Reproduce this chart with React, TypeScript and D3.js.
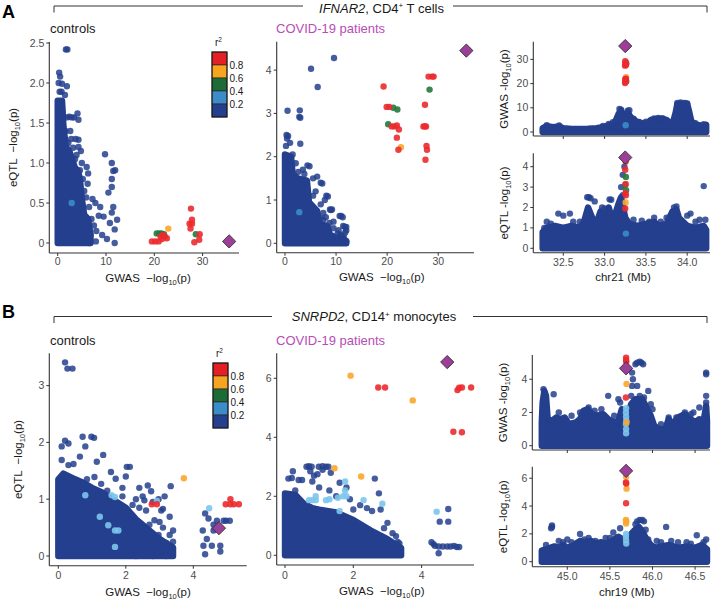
import React from "react";
import * as d3 from "d3";

type Pt = [number, number];
type CPt = [number, number, number];

const FONT = "'Liberation Sans', Arial, Helvetica, sans-serif";
const BLUE = "#243F8D";
const LEGEND_COLORS = ["#E41F26", "#F7A520", "#1D6B37", "#3B8CC8", "#243F8E"];
const LEGEND_LABELS = ["0.8", "0.6", "0.4", "0.2"];
// point classes: 0 red, 1 orange, 2 green, 3 light blue, 5 medium blue
const POINT_COLORS: Record<number, string> = { 0: "#EC2A2D", 1: "#F9A62A", 2: "#237A3D", 3: "#7CC5EC", 5: "#3B8CC8" };
const LEAD_COLOR = "#9B3F98";

// ---------- Panel A : IFNAR2, CD4+ T cells ----------
const A_CTRL_ENV: Pt[] = [[0,1.78],[0.9,1.78],[1.2,1.45],[1.7,1.2],[2.4,1.15],[3.0,1.05],[3.5,0.95],[4.2,0.9],[4.6,0.8],[5.0,0.55],[5.5,0.35],[6.3,0.3],[6.8,0.1]];
const A_CTRL_BLUE: Pt[] = [[1.7,2.42],[2.0,2.42],[0.3,2.13],[0.5,2.08],[0.2,2.0],[0.9,1.99],[1.9,1.96],[0.4,1.89],[0.8,1.89],[1.5,1.85],[0.6,1.75],[0.9,1.65],[1.9,1.57],[2.4,1.58],[2.9,1.57],[3.4,1.57],[4.3,1.54],[4.1,1.62],[4.3,1.29],[4.3,1.2],[3.2,1.19],[3.6,1.05],[2.8,1.3],[2.2,1.25],[1.6,1.4],[6.0,0.95],[6.3,0.87],[4.6,0.91],[5.2,0.8],[9.8,1.11],[11.2,1.0],[11.5,0.9],[11.9,0.91],[11.2,0.8],[10.5,0.63],[11.2,0.7],[11.5,0.45],[11.2,0.38],[11.8,0.17],[11.8,0.0],[8.8,0.45],[9.5,0.33],[7.8,0.5],[7.2,0.55],[8.5,0.34],[9.2,0.1],[6.8,0.1],[7.5,0.22],[5.9,0.57],[6.2,0.74],[5.0,1.0],[3.9,1.1],[5.5,0.65],[6.5,0.45],[7.0,0.3],[8.0,0.15],[10.2,0.05],[10.8,0.25],[12.3,0.29],[6.5,0.0],[7.9,0.02],[5.6,0.2],[2.6,1.4],[3.7,1.3],[4.8,1.15]];
const A_CTRL_COL: CPt[] = [[2.9,0.5,5],[19.5,0.02,0],[20.2,0.02,0],[20.9,0.02,0],[21.3,0.08,0],[21.8,0.1,0],[22.2,0.08,0],[22.6,0.06,0],[21.6,0.05,0],[20.5,0.12,2],[21.0,0.12,2],[21.5,0.12,2],[22.0,0.11,2],[22.9,0.18,1],[27.6,0.43,0],[27.8,0.29,0],[27.3,0.24,0],[27.8,0.24,0],[27.5,0.18,0],[29.4,0.11,0],[29.3,0.04,0],[28.3,0.01,0],[28.6,0.11,2]];
const A_CTRL_LEAD: Pt = [35.5, 0.02];

const A_COV_ENV: Pt[] = [[0,2.05],[1.2,2.0],[1.5,1.6],[2.5,1.5],[4.3,1.45],[4.7,0.95],[6.3,0.75],[6.7,0.45],[8.3,0.4],[8.8,0.2],[10,0.12],[11.5,0.1],[12,0.05]];
const A_COV_BLUE: Pt[] = [[9.6,4.28],[5.1,4.03],[6.4,3.61],[0.5,3.06],[2.9,3.07],[2.8,2.92],[3.0,2.9],[3.0,2.3],[0.3,2.5],[0.6,2.48],[0.4,2.42],[1.0,2.32],[4.4,1.8],[4.8,1.78],[6.3,1.54],[7.0,1.4],[7.3,1.38],[8.1,1.1],[8.4,1.08],[9.0,0.77],[9.2,0.78],[8.8,0.78],[10.7,0.63],[11.0,0.63],[11.3,0.6],[11.4,0.4],[11.7,0.38],[11.8,0.25],[9.9,0.07],[11.2,0.05],[10.3,0.23],[8.7,0.47],[6.6,0.08],[7.5,0.55],[6.9,0.58],[10.8,0.18],[12.0,0.38],[2.1,1.85],[1.5,2.05],[0.2,2.25],[3.5,1.7],[5.5,1.5],[7.8,1.0],[9.5,0.5],[11.5,0.15],[5.5,1.1],[6.0,1.2],[7.0,0.9],[7.5,0.7],[8.0,0.6],[9.5,0.35],[10.5,0.3],[11.0,0.2],[12.0,0.3],[12.0,0.05],[3.8,1.6],[2.6,1.65]];
const A_COV_COL: CPt[] = [[2.8,0.72,5],[19.3,3.62,0],[19.9,3.15,0],[20.4,3.15,0],[20.9,2.7,0],[21.4,2.7,0],[21.9,2.72,0],[22.3,2.63,0],[21.9,2.44,0],[22.2,2.16,0],[28.1,3.85,0],[28.8,3.85,0],[29.1,3.85,0],[27.4,3.2,0],[27.1,2.7,0],[27.4,2.7,0],[27.6,2.7,0],[27.7,2.25,0],[27.8,2.16,0],[27.5,1.93,0],[21.2,3.13,2],[22.0,3.09,2],[20.2,2.75,2],[28.3,3.55,2],[22.7,2.22,1]];
const A_COV_LEAD: Pt = [35.5, 4.45];

const A_LOC_GWAS_ENV: Pt[] = [[32.25,1.6],[32.3,2.4],[32.38,2.0],[32.45,2.3],[32.5,1.6],[32.6,1.3],[32.7,1.3],[32.8,1.4],[32.9,1.6],[32.98,2.0],[33.05,2.8],[33.12,3.5],[33.17,7.5],[33.2,8.8],[33.24,6],[33.28,8.0],[33.32,6],[33.38,4.5],[33.45,3.5],[33.52,3.8],[33.56,5.0],[33.65,5.5],[33.72,5.3],[33.78,4.2],[33.82,3.0],[33.86,8],[33.88,11.5],[33.95,11.8],[34.0,11.6],[34.02,9],[34.05,4.5],[34.1,3],[34.18,2.6],[34.23,3.0]];
const A_LOC_GWAS_BLUE: Pt[] = [[33.18,9.5],[33.2,9.2],[33.28,8.8],[33.3,9.0],[33.88,12],[33.92,12.2],[33.97,12],[34.0,11.8],[33.65,5.8],[33.6,5.6],[33.7,5.7],[33.15,4.5],[34.03,6],[32.3,2.8],[32.45,2.7],[32.98,2.5],[33.05,3.3],[33.1,4.0],[33.35,5.5],[33.42,4.2],[33.5,4.3],[33.75,5.0],[34.1,3.6],[34.2,3.2],[33.8,3.6]];
const A_LOC_GWAS_COL: CPt[] = [[33.255,2.8,5],[33.248,20.2,0],[33.252,20.8,0],[33.256,21.3,0],[33.25,21.8,0],[33.258,22.0,0],[33.262,21.0,2],[33.26,22.6,1],[33.248,27.4,0],[33.252,28.0,0],[33.256,28.6,0],[33.25,29.2,0],[33.26,27.8,0],[33.262,28.4,2]];
const A_LOC_GWAS_LEAD: Pt = [33.25, 35.5];

const A_LOC_EQTL_ENV: Pt[] = [[32.25,0.8],[32.3,1.0],[32.4,1.1],[32.5,1.0],[32.6,1.1],[32.7,1.0],[32.75,1.3],[32.8,2.0],[32.85,1.5],[32.9,1.2],[32.95,1.8],[33.0,1.5],[33.05,2.0],[33.1,1.3],[33.17,2.2],[33.2,2.5],[33.25,1.5],[33.3,1.2],[33.4,1.1],[33.5,1.2],[33.6,1.3],[33.65,1.1],[33.75,1.2],[33.82,1.8],[33.87,1.9],[33.9,1.5],[34.0,1.1],[34.1,1.0],[34.2,1.1],[34.23,0.9]];
const A_LOC_EQTL_BLUE: Pt[] = [[32.3,1.3],[32.44,1.7],[32.5,1.6],[32.58,1.7],[32.62,1.3],[32.79,2.5],[32.81,2.5],[32.83,2.45],[32.88,2.3],[32.97,2.0],[33.0,1.95],[33.06,2.4],[33.08,2.38],[33.15,1.9],[33.2,3.0],[33.22,3.6],[33.24,4.0],[33.22,2.6],[33.54,1.3],[33.6,1.5],[33.68,1.3],[33.84,2.0],[33.87,2.05],[34.0,1.6],[34.04,1.7],[34.15,1.4],[34.2,3.05],[34.22,1.4],[32.27,1.0],[32.35,1.2],[32.7,1.3],[33.35,1.4],[33.45,1.35],[33.75,1.5],[34.1,1.3]];
const A_LOC_EQTL_COL: CPt[] = [[33.258,0.72,5],[33.255,4.25,0],[33.25,3.85,0],[33.258,3.5,2],[33.255,3.15,0],[33.25,3.1,2],[33.26,2.85,2],[33.252,2.7,0],[33.258,2.6,0],[33.255,2.25,1],[33.25,1.95,0]];
const A_LOC_EQTL_LEAD: Pt = [33.25, 4.45];

// ---------- Panel B : SNRPD2, CD14+ monocytes ----------
const B_CTRL_ENV: Pt[] = [[0,1.35],[0.15,1.45],[0.5,1.35],[0.7,1.3],[1.0,1.2],[1.3,1.12],[1.6,1.0],[2.0,0.85],[2.3,0.65],[2.6,0.5],[3.0,0.3],[3.4,0.15]];
const B_CTRL_BLUE: Pt[] = [[0.2,3.41],[0.27,3.3],[0.42,3.3],[0.1,1.93],[0.2,2.03],[0.3,1.98],[0.72,2.1],[0.98,2.1],[1.06,2.08],[0.8,1.93],[1.33,1.78],[1.14,1.66],[0.64,1.75],[0.1,1.69],[0.3,1.6],[0.45,1.62],[1.56,1.48],[2.03,1.57],[2.12,1.57],[1.07,1.39],[1.27,1.27],[1.7,1.36],[2.0,1.4],[2.4,1.2],[2.5,1.05],[2.75,1.14],[2.97,1.0],[3.33,1.23],[3.1,0.83],[2.6,0.8],[2.85,0.63],[3.3,0.69],[3.1,0.5],[2.97,0.37],[3.3,0.37],[2.8,0.2],[3.2,0.23],[2.5,0.12],[2.97,0.06],[2.6,0.3],[2.3,0.4],[2.2,0.63],[2.65,1.24],[2.55,0.98],[3.05,0.8],[2.8,0.0],[2.3,0.0],[1.9,1.05],[1.45,1.15],[0.85,1.35],[2.0,0.7],[2.4,0.85],[1.8,0.9],[1.5,0.9],[2.2,0.9],[2.7,0.55],[3.0,0.6],[3.4,0.45],[3.4,0.25],[3.0,0.15],[2.6,0.05],[3.2,0.0],[1.9,1.2],[2.3,1.0],[2.8,0.95],[3.15,1.05],[4.35,0.75],[4.45,0.66],[4.6,0.55],[4.6,0.45],[4.28,0.45],[4.4,0.3],[4.3,0.18],[4.35,0.03],[4.55,0.18],[4.8,0.18],[4.8,0.08],[4.97,0.62],[5.08,0.62],[4.9,0.62],[4.7,0.62]];
const B_CTRL_COL: CPt[] = [[2.92,0.97,3],[1.58,1.07,3],[1.68,1.04,3],[0.8,1.07,3],[1.78,0.45,3],[1.68,0.45,3],[1.48,0.54,3],[1.23,0.69,3],[1.68,0.16,3],[4.47,0.84,3],[3.72,1.37,1],[2.77,0.91,0],[2.92,0.91,0],[4.96,0.91,0],[5.1,1.0,0],[5.2,0.91,0],[5.35,0.91,0],[5.1,0.91,0]];
const B_CTRL_LEAD: Pt = [4.76, 0.49];

const B_COV_ENV: Pt[] = [[0,2.1],[0.3,2.05],[0.55,1.75],[0.8,1.6],[1.0,1.55],[1.5,1.45],[2.0,1.2],[2.5,0.85],[3.0,0.55],[3.4,0.25]];
const B_COV_BLUE: Pt[] = [[0.63,3.0],[0.7,3.02],[0.78,3.0],[0.99,3.0],[1.1,3.02],[1.2,3.0],[1.27,3.0],[0.23,2.85],[0.1,2.6],[0.2,2.62],[0.4,2.55],[0.5,2.55],[0.74,2.85],[0.85,2.7],[0.95,2.75],[1.1,2.9],[1.34,2.8],[1.6,2.46],[2.63,2.6],[1.8,2.3],[2.75,2.1],[2.4,1.6],[2.8,1.55],[2.55,1.5],[2.9,0.92],[3.15,0.75],[3.25,0.65],[3.25,0.3],[3.3,0.45],[3.0,1.1],[2.2,1.7],[1.9,1.9],[1.3,2.2],[1.0,2.3],[0.3,2.2],[0.8,2.5],[1.5,2.0],[2.0,1.55],[3.3,0.1],[3.35,0.4],[4.78,1.57],[4.78,1.14],[4.53,1.14],[4.29,0.44],[4.39,0.32],[4.5,0.3],[4.62,0.3],[4.75,0.3],[4.85,0.3],[4.95,0.32],[5.03,0.28],[4.5,0.07],[5.1,0.28],[4.35,0.38]];
const B_COV_COL: CPt[] = [[0.7,1.87,3],[0.8,1.87,3],[0.9,1.87,3],[1.2,1.87,3],[1.3,1.9,3],[1.55,1.95,3],[1.7,2.0,3],[1.8,2.0,3],[1.76,2.2,3],[2.3,1.87,3],[2.85,1.75,3],[1.6,1.5,3],[1.76,2.5,3],[0.9,2.0,3],[4.44,1.48,3],[1.92,6.09,1],[1.45,2.95,1],[2.23,2.67,1],[3.74,5.25,1],[2.73,5.69,0],[2.93,5.69,0],[5.05,5.6,0],[5.1,5.68,0],[5.18,5.69,0],[5.45,5.69,0],[4.93,4.19,0],[5.18,4.17,0]];
const B_COV_LEAD: Pt = [4.75, 6.55];

const B_LOC_GWAS_ENV: Pt[] = [[44.70,1.4],[44.71,2.6],[44.73,3.3],[44.75,3.0],[44.77,1.6],[44.82,1.5],[44.87,1.7],[44.92,1.6],[44.97,1.7],[45.02,1.3],[45.1,1.4],[45.15,1.6],[45.19,2.1],[45.24,2.2],[45.29,1.9],[45.35,1.8],[45.42,1.9],[45.48,1.6],[45.55,1.4],[45.6,1.5],[45.64,2.2],[45.7,1.8],[45.75,2.5],[45.8,2.8],[45.88,2.8],[45.93,2.3],[45.98,1.8],[46.02,1.2],[46.08,1.0],[46.15,1.0],[46.19,1.6],[46.24,1.3],[46.3,1.7],[46.38,1.9],[46.45,1.6],[46.5,1.4],[46.55,1.6],[46.6,1.5],[46.63,2.4],[46.64,1.5]];
const B_LOC_GWAS_BLUE: Pt[] = [[44.72,3.4],[44.73,3.1],[44.84,3.1],[45.15,2.0],[45.25,2.3],[45.48,3.0],[45.62,2.6],[45.8,4.9],[45.82,5.0],[45.85,5.05],[45.87,5.0],[45.89,4.9],[45.76,4.4],[45.77,4.0],[45.76,3.6],[45.75,3.0],[45.95,3.3],[45.98,2.5],[46.0,2.2],[46.63,4.4],[46.63,4.3],[46.63,3.0],[46.63,2.6],[46.55,2.3],[46.19,1.7],[46.48,2.0],[46.38,2.0],[45.82,3.6],[45.85,3.0],[45.9,2.9],[45.6,2.8],[44.9,2.0],[45.05,1.8],[45.32,2.1],[45.4,2.2],[45.55,1.8],[46.1,1.3],[46.28,1.7],[46.45,1.9]];
const B_LOC_GWAS_COL: CPt[] = [[45.69,2.25,3],[45.688,2.0,3],[45.69,1.75,3],[45.692,1.5,3],[45.688,1.3,3],[45.69,1.0,3],[45.69,0.75,3],[45.695,1.4,1],[45.695,3.72,1],[45.688,2.9,0],[45.69,5.3,0],[45.69,5.15,0],[45.692,5.05,0]];
const B_LOC_GWAS_LEAD: Pt = [45.69, 4.66];

const B_LOC_EQTL_ENV: Pt[] = [[44.70,0.8],[44.75,0.9],[44.8,1.0],[44.85,1.1],[44.9,1.0],[44.95,1.2],[45.0,1.0],[45.05,1.1],[45.1,1.3],[45.15,1.5],[45.2,1.4],[45.28,1.5],[45.33,1.3],[45.4,1.4],[45.45,1.3],[45.5,1.4],[45.55,1.6],[45.6,1.8],[45.65,1.6],[45.72,1.8],[45.78,2.2],[45.84,2.5],[45.88,2.2],[45.93,1.6],[45.98,1.2],[46.03,1.0],[46.1,1.1],[46.2,1.2],[46.3,1.0],[46.4,1.1],[46.5,1.0],[46.58,1.2],[46.64,0.9]];
const B_LOC_EQTL_BLUE: Pt[] = [[44.82,2.5],[44.82,2.6],[44.81,2.4],[45.15,2.0],[45.33,1.5],[45.54,2.1],[45.62,2.4],[45.82,2.9],[45.85,3.0],[45.88,3.0],[45.9,2.9],[45.8,2.7],[46.16,2.5],[46.52,1.9],[46.63,1.6],[45.0,1.6],[44.95,1.4],[45.25,1.7],[45.92,2.3],[46.3,1.4],[44.9,1.5],[45.45,1.7],[46.05,1.5],[46.4,1.4],[44.75,1.2],[45.05,1.4],[45.2,1.6],[45.5,1.7],[45.95,1.6],[46.1,1.4],[46.22,1.5],[46.45,1.3],[46.6,1.4]];
const B_LOC_EQTL_COL: CPt[] = [[45.69,2.0,3],[45.688,1.8,3],[45.69,1.55,3],[45.692,1.3,3],[45.688,3.0,1],[45.692,2.9,1],[45.69,2.75,1],[45.69,4.2,0],[45.695,5.25,1],[45.688,5.7,0],[45.692,5.62,0],[45.69,6.1,1]];
const B_LOC_EQTL_LEAD: Pt = [45.69, 6.53];

// tick values
const A_CTRL_YT = [0, 0.5, 1, 1.5, 2, 2.5];
const A_GWAS_XT = [0, 10, 20, 30];
const A_COV_YT = [0, 1, 2, 3, 4];
const A_LOC_XT = [32.5, 33, 33.5, 34];
const A_LOC_GWAS_YT = [0, 10, 20, 30];
const A_LOC_EQTL_YT = [0, 1, 2, 3, 4];
const B_CTRL_YT = [0, 1, 2, 3];
const B_GWAS_XT = [0, 2, 4];
const B_COV_YT = [0, 2, 4, 6];
const B_LOC_XT = [45, 45.5, 46, 46.5];
const B_LOC_GWAS_YT = [0, 2, 4];
const B_LOC_EQTL_YT = [0, 2, 4, 6];

const fmt0 = (v: number) => String(v);
const fmtHalf = (v: number) => (v === 0 ? "0" : v.toFixed(1));
const fmt1 = (v: number) => v.toFixed(1);

interface PanelProps {
  left: number; right: number; top: number; bottom: number;
  xd: [number, number]; yd: [number, number];
  xt: number[]; yt: number[];
  xf: (v: number) => string; yf: (v: number) => string;
  xLabels?: boolean; xLabOff?: number;
  env: Pt[]; blue: Pt[]; col: CPt[]; lead: Pt;
}

function Panel(p: PanelProps) {
  const xs = d3.scaleLinear().domain(p.xd).range([p.left, p.right]);
  const ys = d3.scaleLinear().domain(p.yd).range([p.bottom, p.top]);
  const area = d3.area<Pt>().x((d) => xs(d[0])).y0(ys(0)).y1((d) => ys(d[1]));
  const sq = d3.symbol(d3.symbolSquare, 88)() as string;
  const colSorted = [...p.col].sort((a, b) => b[2] - a[2]);
  const showX = p.xLabels !== false;
  const off = p.xLabOff ?? 12.5;
  return (
    <g>
      <path d={area(p.env) as string} fill={BLUE} stroke={BLUE} strokeWidth={6.4} strokeLinejoin="round" />
      {p.blue.map((d, i) => (
        <circle key={"b" + i} cx={xs(d[0])} cy={ys(d[1])} r={3.2} fill={BLUE} fillOpacity={0.85} />
      ))}
      {colSorted.map((d, i) => (
        <circle key={"c" + i} cx={xs(d[0])} cy={ys(d[1])} r={3.2} fill={POINT_COLORS[d[2]]} fillOpacity={0.9} />
      ))}
      <path d={sq} transform={`translate(${xs(p.lead[0])},${ys(p.lead[1])}) rotate(45)`} fill={LEAD_COLOR} stroke="#2a2a2a" strokeWidth={0.8} />
      <line x1={p.left} x2={p.left} y1={p.top} y2={p.bottom} stroke="#333" strokeWidth={1.1} />
      <line x1={p.left} x2={p.right} y1={p.bottom} y2={p.bottom} stroke="#333" strokeWidth={1.1} />
      {p.yt.map((v, i) => (
        <g key={"yt" + i}>
          <line x1={p.left - 3} x2={p.left} y1={ys(v)} y2={ys(v)} stroke="#333" strokeWidth={1} />
          <text x={p.left - 5} y={ys(v) + 3.6} textAnchor="end" fontSize={10.5} fill="#4d4d4d" fontFamily={FONT}>{p.yf(v)}</text>
        </g>
      ))}
      {p.xt.map((v, i) => (
        <g key={"xt" + i}>
          <line x1={xs(v)} x2={xs(v)} y1={p.bottom} y2={p.bottom + 3} stroke="#333" strokeWidth={1} />
          {showX && (
            <text x={xs(v)} y={p.bottom + off} textAnchor="middle" fontSize={10.5} fill="#4d4d4d" fontFamily={FONT}>{p.xf(v)}</text>
          )}
        </g>
      ))}
    </g>
  );
}

function LogLabel({ x, y, prefix, rotate }: { x: number; y: number; prefix: string; rotate?: boolean }) {
  return (
    <text x={x} y={y} textAnchor="middle" fontSize={11.5} fill="#1a1a1a" fontFamily={FONT}
      transform={rotate ? `rotate(-90 ${x} ${y})` : undefined} style={{ whiteSpace: "pre" }}>
      {prefix}log<tspan dy={3} fontSize={7.5}>10</tspan><tspan dy={-3}>(p)</tspan>
    </text>
  );
}

function Legend({ x, y }: { x: number; y: number }) {
  const h = 13, w = 15;
  return (
    <g fontFamily={FONT}>
      <text x={x + w / 2 - 1} y={y - 6} textAnchor="middle" fontSize={10} fill="#1a1a1a">r<tspan dy={-4} fontSize={6.5}>2</tspan></text>
      {LEGEND_COLORS.map((c, i) => (
        <rect key={i} x={x} y={y + i * h} width={w} height={h} fill={c} stroke="#222" strokeWidth={0.6} />
      ))}
      <rect x={x} y={y} width={w} height={h * 5} fill="none" stroke="#1a1a1a" strokeWidth={1.1} />
      {LEGEND_LABELS.map((l, i) => (
        <text key={l} x={x + w + 2.5} y={y + (i + 1) * h + 3.6} fontSize={10} fill="#1a1a1a">{l}</text>
      ))}
    </g>
  );
}

function Header({ y, ty, gapL, gapR, tx, gene, cell, cellRest }: { y: number; ty: number; gapL: number; gapR: number; tx: number; gene: string; cell: string; cellRest: string }) {
  return (
    <g fontFamily={FONT}>
      <path d={`M54,${y + 6.5} V${y} H${gapL} M${gapR},${y} H707 V${y + 6.5}`} fill="none" stroke="#333" strokeWidth={1} />
      <text x={tx} y={ty} textAnchor="middle" fontSize={13} fill="#1a1a1a">
        <tspan fontStyle="italic">{gene}</tspan>, {cell}<tspan dy={-4.5} fontSize={8}>+</tspan><tspan dy={4.5}>{cellRest}</tspan>
      </text>
    </g>
  );
}

export default function App() {
  const magenta = "#B84DB5";
  return (
    <svg width={720} height={603} style={{ position: "absolute", left: 0, top: 0, background: "#fff" }} fontFamily={FONT}>
      <rect width={720} height={603} fill="#fff" />
      {/* ---- A ---- */}
      <text x={2} y={18} fontSize={18} fontWeight="bold" fill="#000">A</text>
      <Header y={6} ty={12.5} gapL={303} gapR={453} tx={381.5} gene="IFNAR2" cell="CD4" cellRest=" T cells" />
      <text x={50} y={33} fontSize={13} fill="#1a1a1a">controls</text>
      <text x={276} y={33} fontSize={13} fill={magenta}>COVID-19 patients</text>
      <Panel left={49.3} right={239} top={42} bottom={253} xd={[-1.74, 37.54]} yd={[-0.125, 2.5125]}
        xt={A_GWAS_XT} yt={A_CTRL_YT} xf={fmt0} yf={fmtHalf} xLabOff={11.8}
        env={A_CTRL_ENV} blue={A_CTRL_BLUE} col={A_CTRL_COL} lead={A_CTRL_LEAD} />
      <Legend x={212} y={52} />
      <LogLabel x={148} y={281.5} prefix={"GWAS  \u2212"} />
      <LogLabel x={17} y={147.5} prefix={"eQTL  \u2212"} rotate />
      <Panel left={276.7} right={474} top={41.7} bottom={252.7} xd={[-1.62, 37.0]} yd={[-0.217, 4.656]}
        xt={A_GWAS_XT} yt={A_COV_YT} xf={fmt0} yf={fmt0} xLabOff={11.8}
        env={A_COV_ENV} blue={A_COV_BLUE} col={A_COV_COL} lead={A_COV_LEAD} />
      <LogLabel x={381.7} y={281} prefix={"GWAS  \u2212"} />
      <Panel left={533.3} right={710} top={41.7} bottom={136} xd={[32.137, 34.276]} yd={[-1.65, 37.3]}
        xt={A_LOC_XT} yt={A_LOC_GWAS_YT} xf={fmt1} yf={fmt0} xLabels={false}
        env={A_LOC_GWAS_ENV} blue={A_LOC_GWAS_BLUE} col={A_LOC_GWAS_COL} lead={A_LOC_GWAS_LEAD} />
      <Panel left={533.3} right={710} top={153.3} bottom={252.7} xd={[32.137, 34.276]} yd={[-0.216, 4.657]}
        xt={A_LOC_XT} yt={A_LOC_EQTL_YT} xf={fmt1} yf={fmt0} xLabOff={13}
        env={A_LOC_EQTL_ENV} blue={A_LOC_EQTL_BLUE} col={A_LOC_EQTL_COL} lead={A_LOC_EQTL_LEAD} />
      <LogLabel x={508} y={89} prefix="GWAS -" rotate />
      <LogLabel x={508} y={203} prefix="eQTL -" rotate />
      <text x={623} y={281} textAnchor="middle" fontSize={11.5} fill="#1a1a1a">chr21 (Mb)</text>

      {/* ---- B ---- */}
      <text x={2} y={318} fontSize={18} fontWeight="bold" fill="#000">B</text>
      <Header y={316.5} ty={321} gapL={272} gapR={473} tx={374} gene="SNRPD2" cell="CD14" cellRest=" monocytes" />
      <text x={50} y={345} fontSize={13} fill="#1a1a1a">controls</text>
      <text x={276} y={344.5} fontSize={13} fill={magenta}>COVID-19 patients</text>
      <Panel left={49.3} right={246.7} top={353.3} bottom={565.7} xd={[-0.267, 5.582]} yd={[-0.171, 3.569]}
        xt={B_GWAS_XT} yt={B_CTRL_YT} xf={fmt0} yf={fmt0} xLabOff={13.5}
        env={B_CTRL_ENV} blue={B_CTRL_BLUE} col={B_CTRL_COL} lead={B_CTRL_LEAD} />
      <Legend x={213} y={363} />
      <LogLabel x={148} y={596} prefix={"GWAS  \u2212"} />
      <LogLabel x={21.5} y={459.5} prefix={"eQTL  \u2212"} rotate />
      <Panel left={276.7} right={474} top={353.3} bottom={565} xd={[-0.243, 5.534]} yd={[-0.329, 6.847]}
        xt={B_GWAS_XT} yt={B_COV_YT} xf={fmt0} yf={fmt0} xLabOff={13.5}
        env={B_COV_ENV} blue={B_COV_BLUE} col={B_COV_COL} lead={B_COV_LEAD} />
      <LogLabel x={381.7} y={595} prefix={"GWAS  \u2212"} />
      <Panel left={532.3} right={710} top={355} bottom={450} xd={[44.589, 46.675]} yd={[-0.259, 5.46]}
        xt={B_LOC_XT} yt={B_LOC_GWAS_YT} xf={fmt1} yf={fmt0} xLabels={false}
        env={B_LOC_GWAS_ENV} blue={B_LOC_GWAS_BLUE} col={B_LOC_GWAS_COL} lead={B_LOC_GWAS_LEAD} />
      <Panel left={532.3} right={710} top={466.7} bottom={566.7} xd={[44.589, 46.675]} yd={[-0.36, 6.83]}
        xt={B_LOC_XT} yt={B_LOC_EQTL_YT} xf={fmt1} yf={fmt0} xLabOff={13.5}
        env={B_LOC_EQTL_ENV} blue={B_LOC_EQTL_BLUE} col={B_LOC_EQTL_COL} lead={B_LOC_EQTL_LEAD} />
      <LogLabel x={507} y={402.5} prefix="GWAS -" rotate />
      <LogLabel x={507} y={516.7} prefix="eQTL -" rotate />
      <text x={626.7} y={596} textAnchor="middle" fontSize={11.5} fill="#1a1a1a">chr19 (Mb)</text>
    </svg>
  );
}
